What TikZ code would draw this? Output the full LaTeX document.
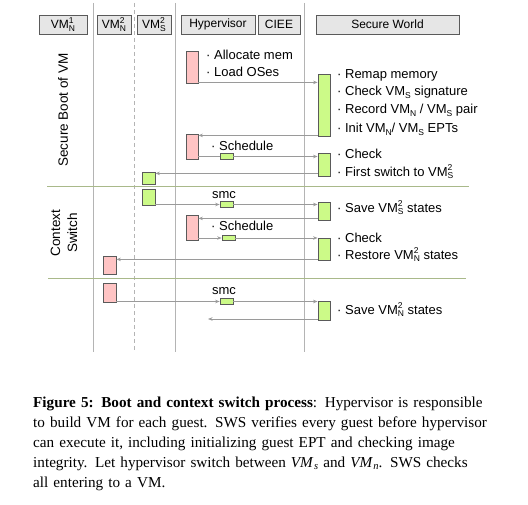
\documentclass[tikz,border=0pt]{standalone}
\usepackage{fontspec}
\setmainfont{Liberation Sans}
\newfontfamily\capfont{Liberation Serif}
\usetikzlibrary{arrows.meta}
\definecolor{pinkf}{HTML}{FFC4C4}
\definecolor{greenf}{HTML}{CCFA88}
\definecolor{boxd}{HTML}{5A5A5A}
\definecolor{hdrf}{HTML}{E6E6E6}
\definecolor{lifec}{HTML}{B4B4B4}
\definecolor{sepc}{HTML}{A9B98A}
\definecolor{msgc}{HTML}{9A9A9A}
\newcommand\sbs[1]{\raisebox{-2.8pt}{\fontsize{8.5}{9}\selectfont #1}}
\newcommand\sps[1]{\raisebox{5.2pt}{\fontsize{8.5}{9}\selectfont #1}}
\newcommand\vmss[2]{VM\rlap{\sps{#2}}\sbs{#1}}
\newcommand\vms[1]{VM\sbs{#1}}
\newcommand\capvm[1]{\textit{VM}\kern0.5pt\raisebox{-2.5pt}{\fontsize{10.5}{11}\selectfont\textit{#1}}}
\tikzset{
  hdr/.style={draw=boxd, fill=hdrf, line width=0.9pt, minimum height=19pt, inner sep=0pt, font=\fontsize{12}{14}\selectfont},
  act/.style={draw=boxd, line width=0.8pt, inner sep=0pt, minimum width=12pt},
  pinkact/.style={act, fill=pinkf},
  greenact/.style={act, fill=greenf},
  tinybox/.style={draw=boxd, fill=greenf, line width=0.7pt, inner sep=0pt, minimum width=13pt, minimum height=5.5pt},
  msg/.style={draw=msgc, line width=0.7pt, -{Stealth[length=4.5pt,width=3.5pt]}},
  note/.style={anchor=west, inner sep=0pt, font=\fontsize{13}{15}\selectfont},
  life/.style={draw=lifec, line width=1pt},
  sepline/.style={draw=sepc, line width=1pt},
  phase/.style={rotate=90, inner sep=0pt, align=center, font=\fontsize{13.5}{17}\selectfont}
}
\begin{document}
\begin{tikzpicture}[x=1pt,y=-1pt]
\useasboundingbox (0,0) rectangle (528,505);
% lifelines
\draw[life] (93,3) -- (93,352);
\draw[life, dash pattern=on 4pt off 3pt] (134,3) -- (134,352);
\draw[life] (175,3) -- (175,352);
\draw[life] (304,3) -- (304,352);
% separators
\draw[sepline] (47,187) -- (469,187);
\draw[sepline] (48,279) -- (466,279);
% headers
\node[hdr, minimum width=48pt] (hvmn1) at (63,24.5) {\vmss{N}{1}};
\node[hdr, minimum width=34pt] (hvmn2) at (114,24.5) {\vmss{N}{2}};
\node[hdr, minimum width=34pt] (hvms2) at (154,24.5) {\vmss{S}{2}};
\node[hdr, minimum width=74pt] (hhyp) at (218,24.5) {Hypervisor};
\node[hdr, minimum width=42pt] (hciee) at (279,24.5) {CIEE};
\node[hdr, minimum width=143pt] (hsw) at (387.5,24.5) {Secure World};
% phase labels
\node[phase] (pboot) at (63,110) {Secure Boot of VM};
\node[phase] (pctx) at (64,233) {Context\\Switch};
% activation boxes
\node[pinkact, minimum height=32pt] (h1) at (192,67) {};
\node[greenact, minimum height=62pt] (s1) at (324,105) {};
\node[pinkact, minimum height=25pt] (h2) at (192,146.5) {};
\node[tinybox] (c1) at (226.5,156.5) {};
\node[greenact, minimum height=23pt] (s2) at (324,164.5) {};
\node[greenact, minimum width=13pt, minimum height=12pt] (v1) at (148.5,178) {};
\node[greenact, minimum width=13pt, minimum height=16pt] (v2) at (148.5,197) {};
\node[tinybox] (c2) at (226.5,204.5) {};
\node[greenact, minimum height=18pt] (s3) at (324,211) {};
\node[pinkact, minimum height=25pt] (h3) at (192,227.5) {};
\node[tinybox] (c3) at (228.5,238) {};
\node[greenact, minimum height=22pt] (s4) at (324,249) {};
\node[pinkact, minimum width=13pt, minimum height=18pt] (n1) at (109.5,265) {};
\node[pinkact, minimum width=13pt, minimum height=19pt] (n2) at (109.5,292.5) {};
\node[tinybox] (c4) at (226.5,301.5) {};
\node[greenact, minimum height=19pt] (s5) at (324,310.5) {};
\coordinate (e1) at (208,319);
% messages
\draw[msg] ([yshift=1pt]h1.south east) -- ([yshift=1pt]h1.south east -| s1.west);
\draw[msg] ([yshift=1pt]s1.south west) -- ([yshift=1pt]s1.south west -| h2.east);
\draw[-, draw=msgc, line width=0.7pt] (c1.west -| h2.east) -- (c1.west);
\draw[msg] (c1.east) -- (c1.east -| s2.west);
\draw[msg] ([yshift=3pt]s2.south west) -- ([yshift=3pt]s2.south west -| v1.east);
\draw[msg] (c2.west -| v2.east) -- (c2.west);
\draw[msg] (c2.east) -- (c2.east -| s3.west);
\draw[msg] ([yshift=2pt]s3.south west) -- ([yshift=2pt]s3.south west -| h3.east);
\draw[msg] (c3.west -| h3.east) -- (c3.west);
\draw[msg] (c3.east) -- (c3.east -| s4.west);
\draw[msg] ([yshift=1pt]s4.south west) -- ([yshift=1pt]s4.south west -| n1.east);
\draw[msg] (c4.west -| n2.east) -- (c4.west);
\draw[msg] (c4.east) -- (c4.east -| s5.west);
\draw[msg] (s5.west |- e1) -- (e1);
% hypervisor notes
\node[note] (t1) at (206,55) {· Allocate mem};
\node[note] (t2) at (206,72) {· Load OSes};
\node[note] (t3) at (211,146) {· Schedule};
\node[note] (t4) at (211,226) {· Schedule};
\node[inner sep=0pt, font=\fontsize{13}{15}\selectfont] (smc1) at (224,195.5) {smc};
\node[inner sep=0pt, font=\fontsize{13}{15}\selectfont] (smc2) at (224,291.5) {smc};
% secure world notes
\node[note] (w1) at (337,75) {· Remap memory};
\node[note] (w2) at (337,92.5) {· Check \vms{S} signature};
\node[note] (w3) at (337,110.5) {· Record \vms{N} / \vms{S} pair};
\node[note] (w4) at (337,129) {· Init \vms{N}/ \vms{S} EPTs};
\node[note] (w5) at (337,154) {· Check};
\node[note] (w6) at (337,172) {· First switch to \vmss{S}{2}};
\node[note] (w7) at (337,208) {· Save \vmss{S}{2} states};
\node[note] (w8) at (337,238) {· Check};
\node[note] (w9) at (337,255) {· Restore \vmss{N}{2} states};
\node[note] (w10) at (337,310) {· Save \vmss{N}{2} states};
% caption
\node[anchor=north west, inner sep=0pt, text width=472pt, align=left,
      font=\capfont\fontsize{15.2}{20}\selectfont] (cap) at (33,396.5)
{\hbox to 472pt{\textbf{Figure 5: Boot and context switch process}: Hypervisor is responsible}
 \hbox to 472pt{to build VM for each guest. SWS verifies every guest before hypervisor}
 \hbox to 472pt{can execute it, including initializing guest EPT and checking image}
 \hbox to 472pt{integrity. Let hypervisor switch between \capvm{s} and \capvm{n}. SWS checks}
 \noindent all entering to a VM.};
\end{tikzpicture}
\end{document}
